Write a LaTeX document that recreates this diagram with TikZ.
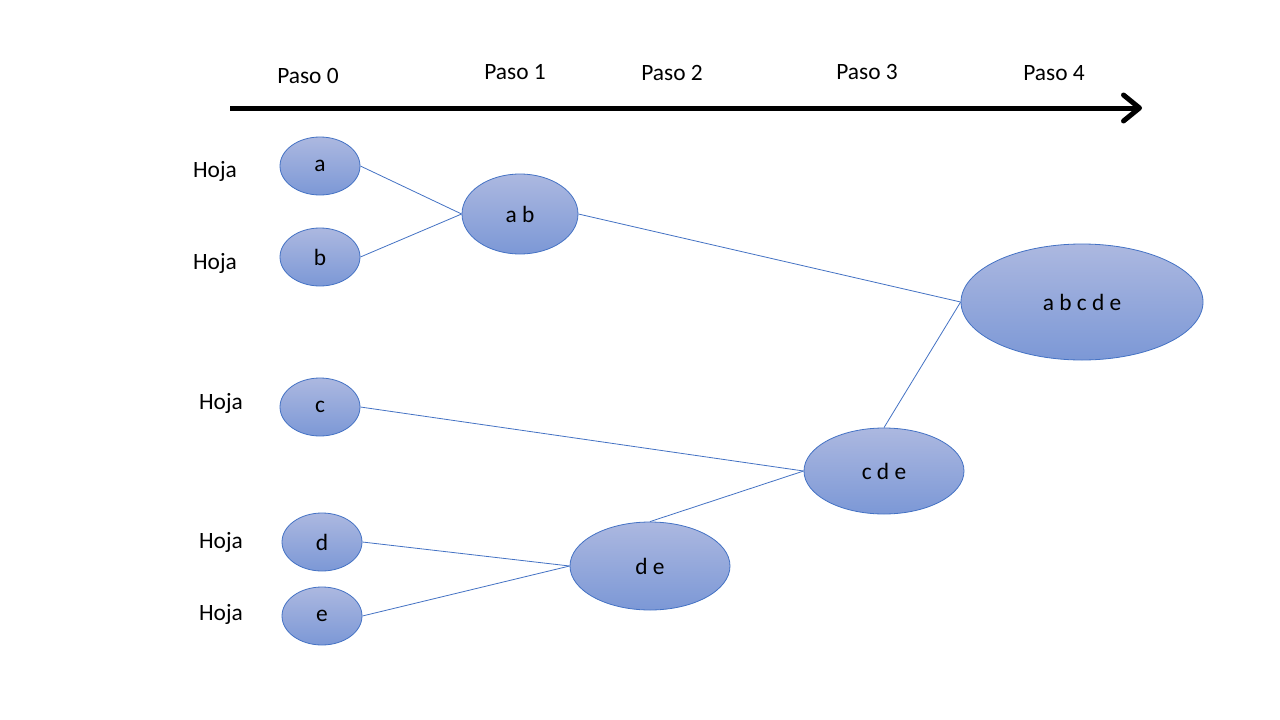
\documentclass[tikz,border=0pt]{standalone}
\usepackage{fontspec}
\setmainfont{Carlito}
\usetikzlibrary{shapes.geometric,arrows.meta}
\definecolor{nodetop}{RGB}{172,184,224}
\definecolor{nodebot}{RGB}{124,152,214}
\definecolor{edgeblue}{RGB}{68,114,196}
\begin{document}
\begin{tikzpicture}[x=1pt,y=-1pt,
  leaf/.style={ellipse,draw=edgeblue,line width=0.8pt,top color=nodetop,bottom color=nodebot,inner sep=0pt},
  lbl/.style={font=\fontsize{23.4}{28}\selectfont,text=black},
  conn/.style={draw=edgeblue,line width=0.8pt}]
\useasboundingbox (0,0) rectangle (1280,720);
\fill[white] (0,0) rectangle (1280,720);
% axis
\coordinate (axs) at (230,108);
\coordinate (axe) at (1142,108);
\draw[line width=5pt,-{Straight Barb[length=16pt,width=26pt,line width=5pt,round]}] (axs) -- (axe);
\node[lbl] (p0) at (308,76) {Paso 0};
\node[lbl] (p1) at (515,72) {Paso 1};
\node[lbl] (p2) at (672,73) {Paso 2};
\node[lbl] (p3) at (867,72) {Paso 3};
\node[lbl] (p4) at (1054,73) {Paso 4};
\node[lbl] (h1) at (215,171) {Hoja};
\node[lbl] (h2) at (215,263) {Hoja};
\node[lbl] (h3) at (221,403) {Hoja};
\node[lbl] (h4) at (221,542) {Hoja};
\node[lbl] (h5) at (221,614) {Hoja};
% nodes
\node[leaf,minimum width=80pt,minimum height=58pt,lbl] (a) at (320,166) {a};
\node[leaf,minimum width=80pt,minimum height=58pt,lbl] (b) at (320,257) {b};
\node[leaf,minimum width=116pt,minimum height=80pt,lbl] (ab) at (520,214) {a b};
\node[leaf,minimum width=242pt,minimum height=116pt,lbl] (abcde) at (1082,302) {a b c d e};
\node[leaf,minimum width=80pt,minimum height=58pt,lbl] (c) at (320,407) {c};
\node[leaf,minimum width=160pt,minimum height=86pt,lbl] (cde) at (884,471) {c d e};
\node[leaf,minimum width=80pt,minimum height=58pt,lbl] (d) at (322,542) {d};
\node[leaf,minimum width=80pt,minimum height=58pt,lbl] (e) at (322,616) {e};
\node[leaf,minimum width=160pt,minimum height=88pt,lbl] (de) at (650,566) {d e};
% connectors
\draw[conn] (a.east) -- (ab.west);
\draw[conn] (b.east) -- (ab.west);
\draw[conn] (ab.east) -- (abcde.west);
\draw[conn] (cde.north) -- (abcde.west);
\draw[conn] (c.east) -- (cde.west);
\draw[conn] (de.north) -- (cde.west);
\draw[conn] (d.east) -- (de.west);
\draw[conn] (e.east) -- (de.west);
\end{tikzpicture}
\end{document}
